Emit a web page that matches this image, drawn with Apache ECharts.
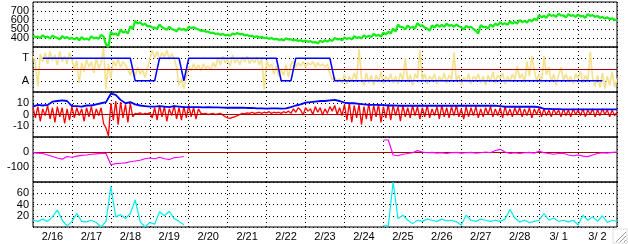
<!DOCTYPE html>
<html>
<head>
<meta charset="utf-8">
<script src="https://cdn.jsdelivr.net/npm/echarts@6/dist/echarts.min.js"></script>
<style>
html, body { margin: 0; padding: 0; background: #fff; }
#charts { width: 628px; height: 244px; }
</style>
</head>
<body>
<div id="charts"></div>
<script>
// 15 days, 2/16 00:00 .. 3/3 00:00
var days = ['2/16', '2/17', '2/18', '2/19', '2/20', '2/21', '2/22', '2/23',
    '2/24', '2/25', '2/26', '2/27', '2/28', '3/ 1', '3/ 2'];
var FINE_STEP = 1.5;   // hours between samples of the noisy series (241 samples)
var COARSE_STEP = 3;   // hours between samples of the smoother series (121 samples)

// panel 1 (green), every 1.5 h
var green = [
    430, 410, 415, 400, 430, 405, 415, 395, 425, 410,
    400, 385, 420, 400, 410, 390, 400, 385, 405, 375,
    410, 385, 395, 380, 420, 395, 405, 390, 435, 415,
    330, 300, 470, 440, 450, 425, 495, 460, 475, 450,
    530, 500, 590, 560, 575, 545, 560, 530, 535, 515,
    515, 500, 550, 520, 505, 490, 525, 500, 490, 475,
    510, 490, 500, 480, 525, 510, 520, 505, 495, 480,
    485, 470, 470, 455, 460, 445, 450, 435, 445, 430,
    435, 425, 450, 440, 455, 440, 445, 430, 435, 420,
    425, 410, 420, 405, 410, 400, 405, 390, 400, 385,
    390, 380, 385, 372, 395, 385, 385, 372, 380, 368,
    375, 362, 372, 358, 365, 350, 355, 340, 370, 355,
    375, 360, 380, 368, 400, 385, 390, 375, 405, 390,
    400, 385, 420, 400, 410, 395, 430, 410, 425, 410,
    445, 425, 435, 415, 460, 440, 470, 450, 505, 470,
    550, 520, 520, 495, 540, 510, 525, 505, 565, 535,
    540, 515, 505, 480, 540, 515, 550, 525, 545, 525,
    560, 535, 545, 525, 550, 530, 520, 495, 535, 515,
    525, 500, 480, 450, 545, 520, 525, 505, 550, 525,
    560, 540, 575, 550, 565, 545, 585, 560, 580, 560,
    600, 575, 590, 570, 605, 585, 615, 595, 655, 630,
    645, 625, 665, 645, 655, 635, 670, 650, 650, 630,
    665, 645, 655, 635, 660, 640, 645, 625, 665, 645,
    655, 635, 645, 625, 635, 615, 630, 610, 620, 600,
    605
];

// panel 2 (A = 1, T = 3); yellow every 1.5 h, state every 3 h
var yellow = [
    3.2, 2.6, 0.5, 3.4, 2.7, 3.5, 2.5, 3.6, 2.8, 3.3,
    2.4, 3.6, 2.7, 3.2, 2.5, 3.5, 2.9, 2.0, 2.8, 0.8,
    2.6, 1.8, 2.9, 2.2, 2.7, 1.7, 3.0, 2.1, 2.6, 3.9,
    0.3, 2.5, 1.2, 2.8, 2.3, 2.9, 2.2, 2.7, 2.4, 2.0,
    1.5, 2.1, 1.4, 2.2, 1.6, 2.0, 1.3, 2.1, 2.9, 3.7,
    3.0, 3.6, 2.9, 3.5, 3.1, 3.7, 2.9, 3.4, 3.0, 2.2,
    0.6, 1.2, 0.3, 1.3, 2.3, 1.9, 2.5, 2.0, 2.4, 1.9,
    2.5, 2.1, 2.3, 2.0, 2.6, 2.2, 3.1, 2.4, 3.2, 2.6,
    3.0, 2.3, 3.3, 2.6, 3.0, 2.4, 3.1, 2.7, 3.2, 2.5,
    3.0, 2.6, 3.1, 2.4, 3.0, 0.2, 2.8, 2.2, 2.5, 1.6,
    2.3, 1.4, 2.0, 1.5, 2.4, 1.3, 2.5, 2.7, 2.2, 2.6,
    2.3, 2.7, 2.2, 2.6, 2.4, 2.7, 2.2, 2.6, 2.3, 2.5,
    2.2, 2.5, 1.6, 1.1, 1.3, 1.0, 1.2, 0.8, 1.6, 0.7,
    1.4, 0.9, 1.7, 1.0, 3.8, 1.2, 0.6, 1.7, 0.8, 1.5,
    0.6, 1.5, 0.9, 1.8, 0.7, 1.4, 1.0, 1.6, 0.8, 1.4,
    0.7, 1.7, 1.0, 3.0, 0.9, 1.5, 0.6, 1.6, 1.2, 3.7,
    1.0, 1.6, 0.7, 1.4, 1.1, 1.6, 0.7, 1.4, 0.9, 1.7,
    0.8, 1.5, 1.1, 3.5, 1.0, 1.5, 0.6, 1.3, 0.9, 1.6,
    0.7, 1.4, 1.1, 1.6, 0.8, 1.4, 0.6, 1.5, 0.9, 1.8,
    0.8, 1.5, 1.2, 1.7, 0.7, 1.4, 0.9, 1.6, 1.1, 2.3,
    1.2, 1.6, 0.8, 2.7, 1.4, 3.2, 1.9, 1.0, 1.6, 0.8,
    3.2, 1.5, 2.2, 0.9, 1.6, 0.6, 1.5, 2.2, 1.0, 1.6,
    0.9, 1.4, 0.7, 1.6, 1.2, 1.8, 0.8, 1.5, 0.9, 3.6,
    1.2, 0.5, 1.5, 0.4, 1.7, 0.3, 1.4, 0.6, 1.8, 0.4,
    1.2
];
var state = [
    null, null, 3, 3, 3, 3, 3, 3,
    3, 3, 3, 3, 3, 3, 3, 3,
    3, 3, 3, 3, 3, 1, 1, 1,
    1, 1, 3, 3, 3, 3, 3, 1,
    3, 3, 3, 3, 3, 3, 3, 3,
    3, 3, 3, 3, 3, 3, 3, 3,
    3, 3, 3, 1, 1, 1, 3, 3,
    3, 3, 3, 3, 3, 3, 1, 1,
    1, 1, 1, 1, 1, 1, 1, 1,
    1, 1, 1, 1, 1, 1, 1, 1,
    1, 1, 1, 1, 1, 1, 1, 1,
    1, 1, 1, 1, 1, 1, 1, 1,
    1, 1, 1, 1, 1, 1, 1, 1,
    1, 1, 1, 1, 1, 1, 1, 1,
    1, 1, 1, 1, 1, 1, null, null,
    null
];

// panel 3; red every 1.5 h, blue every 3 h
var redLine = [
    6, -3, 7, -6, 5, -1, 8, -4, 6, -7,
    7, -2, 6, -8, 5, -5, 7, -3, 6, -1,
    5, -6, 6, -2, 7, -4, 5, -1, 6, -8,
    -12, -19, 10, -5, 12, -9, 11, -3, 9, -7,
    10, -2, 1, 0.5, 1.5, 0, 1, 0.5, 1.5, -3,
    6, -5, 8, -2, 7, -6, 5, -1, 8, -4,
    6, -5, 7, -3, 8, -2, 6, -4, 5, 1,
    0.5, 1, 0, 0.5, 1, 0, 0.5, 1, -0.5, -2,
    -3, -3.5, -2.5, -2, -1, 0, 1, 0.5, 1.5, 1,
    2, 1, 1.5, 2, 1, 2, 1.5, 2.5, 1, 2,
    1.5, 2, 1, 2.5, 1.5, 3, 1, 5, 2, 6,
    4, -0.5, 6, 3, 5, 0, 7, 2, 6, -0.5,
    5, 1, 7, 3, 8, 0, 6, -1, 9, -5,
    10, -7, 8, -3, 9, -9, 7, -4, 10, -6,
    8, -2, 9, -7, 7, -3, 9, -5, 8, -1,
    7, -6, 8, -2, 6, -3, 8, -1, 7, -4,
    6, -2, 8, -3, 5, -1, 7, -4, 8, -2,
    6, -3, 7, -1, 8, -2, 5, -4, 7, -2,
    6, -1, 7, -3, 5, -2, 6, 0, 7, -2,
    5, -1, 6, -3, 7, -1, 5, -2, 6, 0,
    6, -2, 5, -1, 6, -3, 5, 0, 6, -2,
    5, -1, 4, -2, 5, 0, 4, -2, 5, -1,
    4, -2, 5, 0, 4, -1, 5, -2, 4, 0,
    5, -2, 4, -1, 5, 0, 4, -2, 4, -1,
    2
];
var blueLine = [
    7, 8.5, 8, 8.5, 11.4, 12, 12.5, 12,
    7.5, 7.5, 7, 8, 8, 9, 10, 11,
    18.5, 17.5, 13, 10, 11, 9, 8, 7.5,
    7, 7, 7.5, 7, 6.5, 7.5, 7, 6.5,
    6.5, 6.5, 6.5, 6.3, 6.5, 6.4, 6.4, 6.2,
    6, 6, 6.2, 6, 5.8, 5.8, 5.5, 5.5,
    5.2, 5.5, 5.5, 5.2, 5.5, 6.5, 8, 9,
    10.5, 11, 11.5, 12, 12, 12.5, 13, 12,
    10.5, 10, 10, 9.5, 9, 8.5, 8.5, 8.5,
    8.4, 8, 8, 7.8, 7.8, 7.8, 7.8, 7.8,
    7.8, 7.8, 7.8, 7.8, 7.8, 7.8, 7.8, 7.8,
    7.8, 7.8, 7.8, 7.8, 7.8, 7.8, 7.8, 7.8,
    7.5, 6.9, 6.9, 6.9, 6.9, 6.9, 6.9, 6.9,
    6.5, 5, 5, 4.8, 4.8, 4.6, 4.6, 4.6,
    4.6, 4.6, 4.6, 4.6, 4.6, 4.6, 4.6, 4.6,
    4.6
];

// panel 4, every 3 h
var magenta = [
    -5, -8, -10, -20, -30, -40, -48, -30,
    -35, -28, -22, -20, -15, -12, -9, -10,
    -85, -78, -75, -72, -65, -60, -55, -45,
    -40, -45, -35, -45, -50, -38, -35, -30,
    null, null, null, null, null, null, null, null,
    null, null, null, null, null, null, null, null,
    null, null, null, null, null, null, null, null,
    null, null, null, null, null, null, null, null,
    null, null, null, null, null, null, null, null,
    80, 80, -20, -25, -15, -10, -5, 9,
    0, -5, -3, -8, -5, -10, -5, -3,
    -8, -5, -2, -8, -5, 0, -5, 10,
    18, 0, -10, -5, -10, -5, -3, -8,
    6, -5, -10, -15, -10, -8, -20, -25,
    -20, -28, -31, -20, -10, -5, -8, -3,
    0
];

// panel 5, every 3 h
var cyan = [
    12, 10, 14, 10, 18, 30, 12, 2,
    10, 24, 10, 9, 12, 8, 0, 10,
    72, 18, 22, 15, 24, 48, 10, 0,
    8, 5, 27, 20, 28, 15, 10, 4,
    null, null, null, null, null, null, null, null,
    null, null, null, null, null, null, null, null,
    null, null, null, null, null, null, null, null,
    null, null, null, null, null, null, null, null,
    null, null, null, null, null, null, null, null,
    2, 2, 80, 15, 21, 12, 6, 12,
    10, 14, 12, 10, 14, 11, 12, 9,
    3.5, 21, 12, 10, 14, 12, 10, 12,
    10, 14, 31, 16, 9, 12, 8, 10,
    12, 24, 12, 16, 10, 12, 9, 12,
    3.5, 21, 12, 18, 10, 20, 8, 12,
    10
];

var yRanges = [
    { min: 300, max: 800, step: 100 },
    { min: 0, max: 4, step: 1 },
    { min: -20, max: 20, step: 10 },
    { min: -200, max: 100, step: 100 },
    { min: 0, max: 80, step: 20 }
];
var yTickLabels = [
    [[400, '400'], [500, '500'], [600, '600'], [700, '700']],
    [[1, 'A'], [3, 'T']],
    [[10, '10'], [0, '0'], [-10, '-10']],
    [[0, '0'], [-100, '-100']],
    [[60, '60'], [40, '40'], [20, '20']]
];

var panelTops = [2, 47, 92, 137, 182];
var PANEL_H = 45;
var FONT = '"Liberation Sans", Arial, sans-serif';
var DOTS = [1, 3];

var chart = echarts.init(document.getElementById('charts'));

function toPairs(values, step) {
    var out = [], i = 0;
    for (i; i < values.length; i++) {
        out.push([i * step, values[i]]);
    }
    return out;
}

function tickFormatter(k) {
    return function (v) {
        var list = yTickLabels[k], i = 0;
        for (i; i < list.length; i++) {
            if (list[i][0] === v) return list[i][1];
        }
        return '';
    };
}

function line(k, values, step, color, width, z) {
    return {
        type: 'line',
        xAxisIndex: 2 * k + 1,
        yAxisIndex: k,
        data: toPairs(values, step),
        showSymbol: false,
        symbol: 'none',
        connectNulls: false,
        animation: false,
        silent: true,
        z: z || 2,
        lineStyle: { color: color, width: width }
    };
}

function zeroLine(k, value) {
    return {
        type: 'line',
        xAxisIndex: 2 * k + 1,
        yAxisIndex: k,
        data: [],
        z: 5,
        markLine: {
            silent: true,
            symbol: 'none',
            animation: false,
            label: { show: false },
            lineStyle: { color: '#aa0000', type: 'solid', width: 1 },
            data: [{ yAxis: value }]
        }
    };
}

var grids = [], xAxes = [], yAxes = [];
var k = 0;
for (k; k < 5; k++) {
    grids.push({
        left: 33,
        right: 11,
        top: panelTops[k],
        height: PANEL_H,
        containLabel: false,
        outerBoundsMode: 'none',
        show: true,
        borderColor: '#000',
        borderWidth: 1,
        backgroundColor: 'transparent'
    });
    xAxes.push({
        type: 'category',
        gridIndex: k,
        data: days,
        boundaryGap: true,
        axisLine: { show: false },
        axisTick: { show: false },
        axisLabel: {
            show: k === 4,
            interval: 0,
            color: '#000',
            fontSize: 11,
            fontFamily: FONT,
            margin: 4
        },
        splitLine: {
            show: true,
            interval: 0,
            lineStyle: { color: '#000', type: DOTS, width: 1 }
        }
    });
    xAxes.push({
        type: 'value',
        gridIndex: k,
        min: 0,
        max: 360,
        show: false
    });
    yAxes.push({
        type: 'value',
        gridIndex: k,
        min: yRanges[k].min,
        max: yRanges[k].max,
        interval: yRanges[k].step,
        axisLine: { show: false },
        axisTick: { show: false },
        axisLabel: {
            formatter: tickFormatter(k),
            color: '#000',
            fontSize: 11,
            fontFamily: FONT,
            margin: 4
        },
        splitLine: {
            show: true,
            lineStyle: { color: '#000', type: DOTS, width: 1 }
        }
    });
}

var option = {
    animation: false,
    backgroundColor: '#fff',
    grid: grids,
    xAxis: xAxes,
    yAxis: yAxes,
    series: [
        line(0, green, FINE_STEP, '#11ee11', 2.2),
        line(1, yellow, FINE_STEP, '#f5e08c', 1.6),
        zeroLine(1, 2),
        line(1, state, COARSE_STEP, '#0000ff', 1.5, 6),
        line(2, redLine, FINE_STEP, '#ff0000', 1.3),
        line(2, blueLine, COARSE_STEP, '#0000ff', 1.8, 3),
        zeroLine(2, 0),
        zeroLine(3, 0),
        line(3, magenta, COARSE_STEP, '#ff00ff', 1.2, 6),
        line(4, cyan, COARSE_STEP, '#00eeee', 1.2)
    ],
    graphic: [
        { type: 'rect', shape: { x: 613, y: 229, width: 14, height: 14 }, style: { fill: 'none', stroke: '#dddddd', lineWidth: 1 } },
        { type: 'line', shape: { x1: 616, y1: 242, x2: 626, y2: 232 }, style: { stroke: '#999', lineWidth: 1 } },
        { type: 'line', shape: { x1: 620, y1: 242, x2: 626, y2: 236 }, style: { stroke: '#999', lineWidth: 1 } },
        { type: 'line', shape: { x1: 624, y1: 242, x2: 626, y2: 240 }, style: { stroke: '#999', lineWidth: 1 } }
    ]
};

chart.setOption(option);
</script>
</body>
</html>
